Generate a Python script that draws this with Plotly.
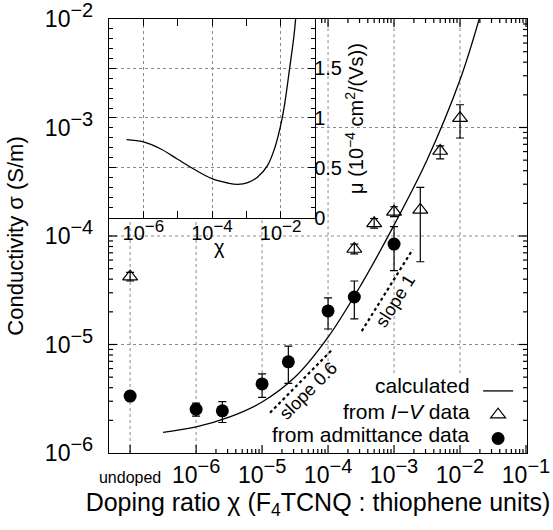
import math
import plotly.graph_objects as go

# ---------------- data ----------------
# calculated conductivity (main curve)
calc_x = [3.16e-7, 1e-6, 3.16e-6, 1e-5, 3.16e-5, 1e-4, 3.16e-4, 1e-3, 3.16e-3, 1e-2, 2e-2]
calc_y = [1.55e-6, 1.74e-6, 2.14e-6, 2.95e-6, 5.01e-6, 1.17e-5, 3.55e-5, 1.26e-4, 5.01e-4, 2.75e-3, 1.05e-2]

# from I-V data (open triangles); undoped plotted at 1e-7
iv_x = [1e-7, 2.5e-4, 5e-4, 1e-3, 2.5e-3, 5e-3, 1e-2]
iv_y = [4.22e-5, 7.59e-5, 1.31e-4, 1.67e-4, 1.74e-4, 6.07e-4, 1.22e-3]
iv_hi = [4.62e-5, 8.41e-5, 1.45e-4, 1.86e-4, 2.81e-4, 6.76e-4, 1.62e-3]
iv_lo = [3.85e-5, 6.84e-5, 1.18e-4, 1.51e-4, 5.79e-5, 5.13e-4, 8.0e-4]

# from admittance data (filled circles)
adm_x = [1e-7, 1e-6, 2.5e-6, 1e-5, 2.5e-5, 1e-4, 2.5e-4, 1e-3]
adm_y = [3.35e-6, 2.53e-6, 2.45e-6, 4.33e-6, 6.93e-6, 2.04e-5, 2.74e-5, 8.43e-5]
adm_hi = [3.35e-6, 2.88e-6, 2.97e-6, 5.35e-6, 9.68e-6, 2.69e-5, 3.85e-5, 1.22e-4]
adm_lo = [3.35e-6, 2.19e-6, 1.91e-6, 3.26e-6, 4.39e-6, 1.39e-5, 1.72e-5, 4.79e-5]

# slope guide lines
slope06_x = [1.32e-5, 1.14e-4]
slope06_y = [2.35e-6, 8.9e-6]
slope1_x = [3.24e-4, 1.92e-3]
slope1_y = [1.33e-5, 7.53e-5]

# inset: mobility (units of 1e-4 cm^2/(Vs))
mu_x = [3.24e-7, 1e-6, 3.24e-6, 1e-5, 3.02e-5, 1e-4, 2.88e-4, 5.62e-4, 1.10e-3, 2.14e-3,
        4.17e-3, 6.61e-3, 1e-2, 1.29e-2, 1.82e-2, 2.45e-2, 2.82e-2]
mu_y = [0.783, 0.76, 0.69, 0.587, 0.487, 0.393, 0.35, 0.337, 0.353, 0.41,
        0.527, 0.693, 0.927, 1.127, 1.493, 1.827, 2.05]

legend_labels = ["calculated", "from <i>I−V</i> data", "from admittance data"]

# tick labels
def sup(base, exp, size):
    return f'{base}<sup><span style="font-size:{size}px">{exp}</span></sup>'

x_tickvals = [1e-7, 1e-6, 1e-5, 1e-4, 1e-3, 1e-2, 1e-1]
x_ticktext = ['<span style="font-size:16px">undoped</span>'] + [sup("10", f"−{n}", 20) for n in range(6, 0, -1)]
y_tickvals = [1e-6, 1e-5, 1e-4, 1e-3, 1e-2]
y_ticktext = [sup("10", f"−{n}", 20) for n in range(6, 1, -1)]
in_x_tickvals = [1e-6, 1e-4, 1e-2]
in_x_ticktext = [sup("10", f"−{n}", 17) for n in (6, 4, 2)]
in_y_tickvals = [0, 0.5, 1, 1.5]
in_y_ticktext = ['0', '0.5', '1', '1.5']

FONT = "Liberation Sans, Arial, Helvetica, sans-serif"
BLACK = "black"
GRID = "#8a8a8a"

X_RANGE = [-7.32, -0.985]
Y_RANGE = [-6, -2]
INSET_X = [0, 0.4928]
INSET_Y = [0.5415, 1]
KEY_BOX = (0.35, 0.184)  # left edge / top edge (domain fractions) of the opaque key area


def xfrac(v):
    return (math.log10(v) - X_RANGE[0]) / (X_RANGE[1] - X_RANGE[0])


def yfrac(v):
    return (math.log10(v) - Y_RANGE[0]) / (Y_RANGE[1] - Y_RANGE[0])


x_minor = [m * 10.0 ** e for e in range(-6, -1) for m in range(2, 10)]
y_minor = [m * 10.0 ** e for e in range(-6, -2) for m in range(2, 10)]

fig = go.Figure()

fig.add_trace(go.Scatter(x=calc_x, y=calc_y, mode="lines", name="",
                         line=dict(color=BLACK, width=1.3, shape="spline"),
                         xaxis="x", yaxis="y"))
fig.add_trace(go.Scatter(
    x=iv_x, y=iv_y, mode="markers", name="",
    marker=dict(symbol="triangle-up-open", size=13, color=BLACK, line=dict(width=1.2, color=BLACK)),
    error_y=dict(type="data", symmetric=False,
                 array=[h - v for h, v in zip(iv_hi, iv_y)],
                 arrayminus=[v - l for v, l in zip(iv_y, iv_lo)],
                 color=BLACK, thickness=1.2, width=4),
    xaxis="x", yaxis="y"))
fig.add_trace(go.Scatter(
    x=adm_x, y=adm_y, mode="markers", name="",
    marker=dict(symbol="circle", size=13, color=BLACK),
    error_y=dict(type="data", symmetric=False,
                 array=[h - v for h, v in zip(adm_hi, adm_y)],
                 arrayminus=[v - l for v, l in zip(adm_y, adm_lo)],
                 color=BLACK, thickness=1.2, width=4),
    xaxis="x", yaxis="y"))
fig.add_trace(go.Scatter(x=slope06_x, y=slope06_y, mode="lines", showlegend=False,
                         line=dict(color=BLACK, width=2.2, dash="dot"), xaxis="x", yaxis="y"))
fig.add_trace(go.Scatter(x=slope1_x, y=slope1_y, mode="lines", showlegend=False,
                         line=dict(color=BLACK, width=2.2, dash="dot"), xaxis="x", yaxis="y"))

fig.add_trace(go.Scatter(x=mu_x, y=mu_y, mode="lines", showlegend=False,
                         line=dict(color=BLACK, width=1.3, shape="spline"),
                         xaxis="x2", yaxis="y2"))

# ---- main grid lines (dotted), kept out of the inset panel and the key area ----
# (shape positions on log axes are given as data values)
grid_line = dict(color=GRID, width=1, dash="dot")
for v in x_tickvals:
    f = xfrac(v)
    if 0.01 < f < 0.99:
        top = INSET_Y[0] if f < INSET_X[1] else 1
        bottom = KEY_BOX[1] if f > KEY_BOX[0] else 0
        fig.add_shape(type="line", xref="x", yref="y domain", x0=v, x1=v,
                      y0=bottom, y1=top, line=grid_line, layer="below")
for v in y_tickvals:
    f = yfrac(v)
    if 0.01 < f < 0.99:
        left = INSET_X[1] if f > INSET_Y[0] else 0
        fig.add_shape(type="line", xref="x domain", yref="y", x0=left, x1=1,
                      y0=v, y1=v, line=grid_line, layer="below")

# ---- main axis ticks (inside, on all four sides; left out where the inset sits) ----
tick_line = dict(color=BLACK, width=1.2)


def xtick(v, ln, top=False):
    fig.add_shape(type="line", xref="x", yref="y domain", ysizemode="pixel",
                  yanchor=1 if top else 0, x0=v, x1=v,
                  y0=0, y1=-ln if top else ln, line=tick_line, layer="above")


def ytick(v, ln, right=False):
    fig.add_shape(type="line", xref="x domain", yref="y", xsizemode="pixel",
                  xanchor=1 if right else 0, y0=v, y1=v,
                  x0=0, x1=-ln if right else ln, line=tick_line, layer="above")


for vals, ln in ((x_tickvals, 8), (x_minor, 4)):
    for v in vals:
        if 0 < xfrac(v) < 0.998:
            xtick(v, ln)
            if xfrac(v) > INSET_X[1] + 0.01:
                xtick(v, ln, top=True)
for vals, ln in ((y_tickvals, 8), (y_minor, 4)):
    for v in vals:
        if 0.002 < yfrac(v) < 0.998:
            ytick(v, ln, right=True)
            if yfrac(v) < INSET_Y[0] - 0.01:
                ytick(v, ln)

# slope labels (annotation positions on log axes are log10 values)
fig.add_annotation(x=-4.303, y=-5.429, xref="x", yref="y", text="slope 0.6", showarrow=False,
                   textangle=-45, font=dict(size=18, family=FONT, color=BLACK))
fig.add_annotation(x=-2.985, y=-4.596, xref="x", yref="y", text="slope 1", showarrow=False,
                   textangle=-58, font=dict(size=18, family=FONT, color=BLACK))

# key texts (right-aligned; the legend draws the symbols to their right)
legend_text_y = [0.1544, 0.0945, 0.0415]
for txt, yy in zip(legend_labels, legend_text_y):
    fig.add_annotation(x=0.8684, y=yy, xref="paper", yref="paper", text=txt, showarrow=False,
                       xanchor="right", yanchor="middle", font=dict(size=21, family=FONT, color=BLACK))

# inset x title
fig.add_annotation(x=sum(INSET_X) / 2, y=0.475, xref="paper", yref="paper", text="χ",
                   showarrow=False, font=dict(size=20, family=FONT, color=BLACK))

tick_common = dict(ticks="inside", tickcolor=BLACK, tickwidth=1.2, color=BLACK)
line_common = dict(showline=True, linecolor=BLACK, linewidth=1.3, zeroline=False, automargin=False)
grid_common = dict(showgrid=True, gridcolor=GRID, griddash="dot", gridwidth=1)

fig.update_layout(
    width=553, height=530,
    margin=dict(l=109, r=26, t=19, b=77, autoexpand=False),
    paper_bgcolor="white", plot_bgcolor="white",
    font=dict(family=FONT, size=22, color=BLACK),
    showlegend=True,
    legend=dict(x=0.883, y=0.182, xanchor="left", yanchor="top",
                bgcolor="rgba(255,255,255,0)", borderwidth=0, font=dict(size=16, family=FONT),
                tracegroupgap=0, itemwidth=30),
    xaxis=dict(type="log", range=X_RANGE, domain=[0, 1], anchor="y",
               tickmode="array", tickvals=x_tickvals, ticktext=x_ticktext,
               ticks="", color=BLACK, tickfont=dict(size=23), ticklabelstandoff=1,
               ticklabeloverflow="allow",
               mirror=True, **line_common, showgrid=False,
               title=dict(text="Doping ratio χ (F<sub>4</sub>TCNQ : thiophene units)",
                          font=dict(size=25), standoff=0)),
    yaxis=dict(type="log", range=Y_RANGE, domain=[0, 1], anchor="x",
               tickmode="array", tickvals=y_tickvals, ticktext=y_ticktext,
               ticks="", color=BLACK, tickfont=dict(size=23), ticklabelstandoff=10,
               ticklabeloverflow="allow",
               mirror=True, **line_common, showgrid=False,
               title=dict(text="Conductivity σ (S/m)", font=dict(size=22), standoff=15)),
    xaxis2=dict(type="log", range=[-7, -1], domain=INSET_X, anchor="y2",
                tickmode="array", tickvals=in_x_tickvals, ticktext=in_x_ticktext,
                ticklen=7, **tick_common, tickfont=dict(size=20), ticklabelstandoff=-3,
                minor=dict(tickmode="array", tickvals=[1e-7, 1e-5, 1e-3, 1e-1], ticks="inside",
                           ticklen=7, tickcolor=BLACK, tickwidth=1.2, showgrid=False),
                mirror="ticks", **line_common, **grid_common),
    yaxis2=dict(range=[0, 1.99], domain=INSET_Y, anchor="x2", side="right",
                tickmode="array", tickvals=in_y_tickvals, ticktext=in_y_ticktext,
                ticklen=7, **tick_common, tickfont=dict(size=20), ticklabelstandoff=-6,
                minor=dict(dtick=0.1, ticks="inside", ticklen=4, tickcolor=BLACK, tickwidth=1.2,
                           showgrid=False),
                mirror="ticks", **line_common, **grid_common,
                title=dict(text="μ (10<sup>−4</sup> cm<sup>2</sup>/(Vs))", font=dict(size=20), standoff=6)),
)

fig.write_html("out.html", config={"displayModeBar": False},
               post_script="document.body.style.margin='0px';")
